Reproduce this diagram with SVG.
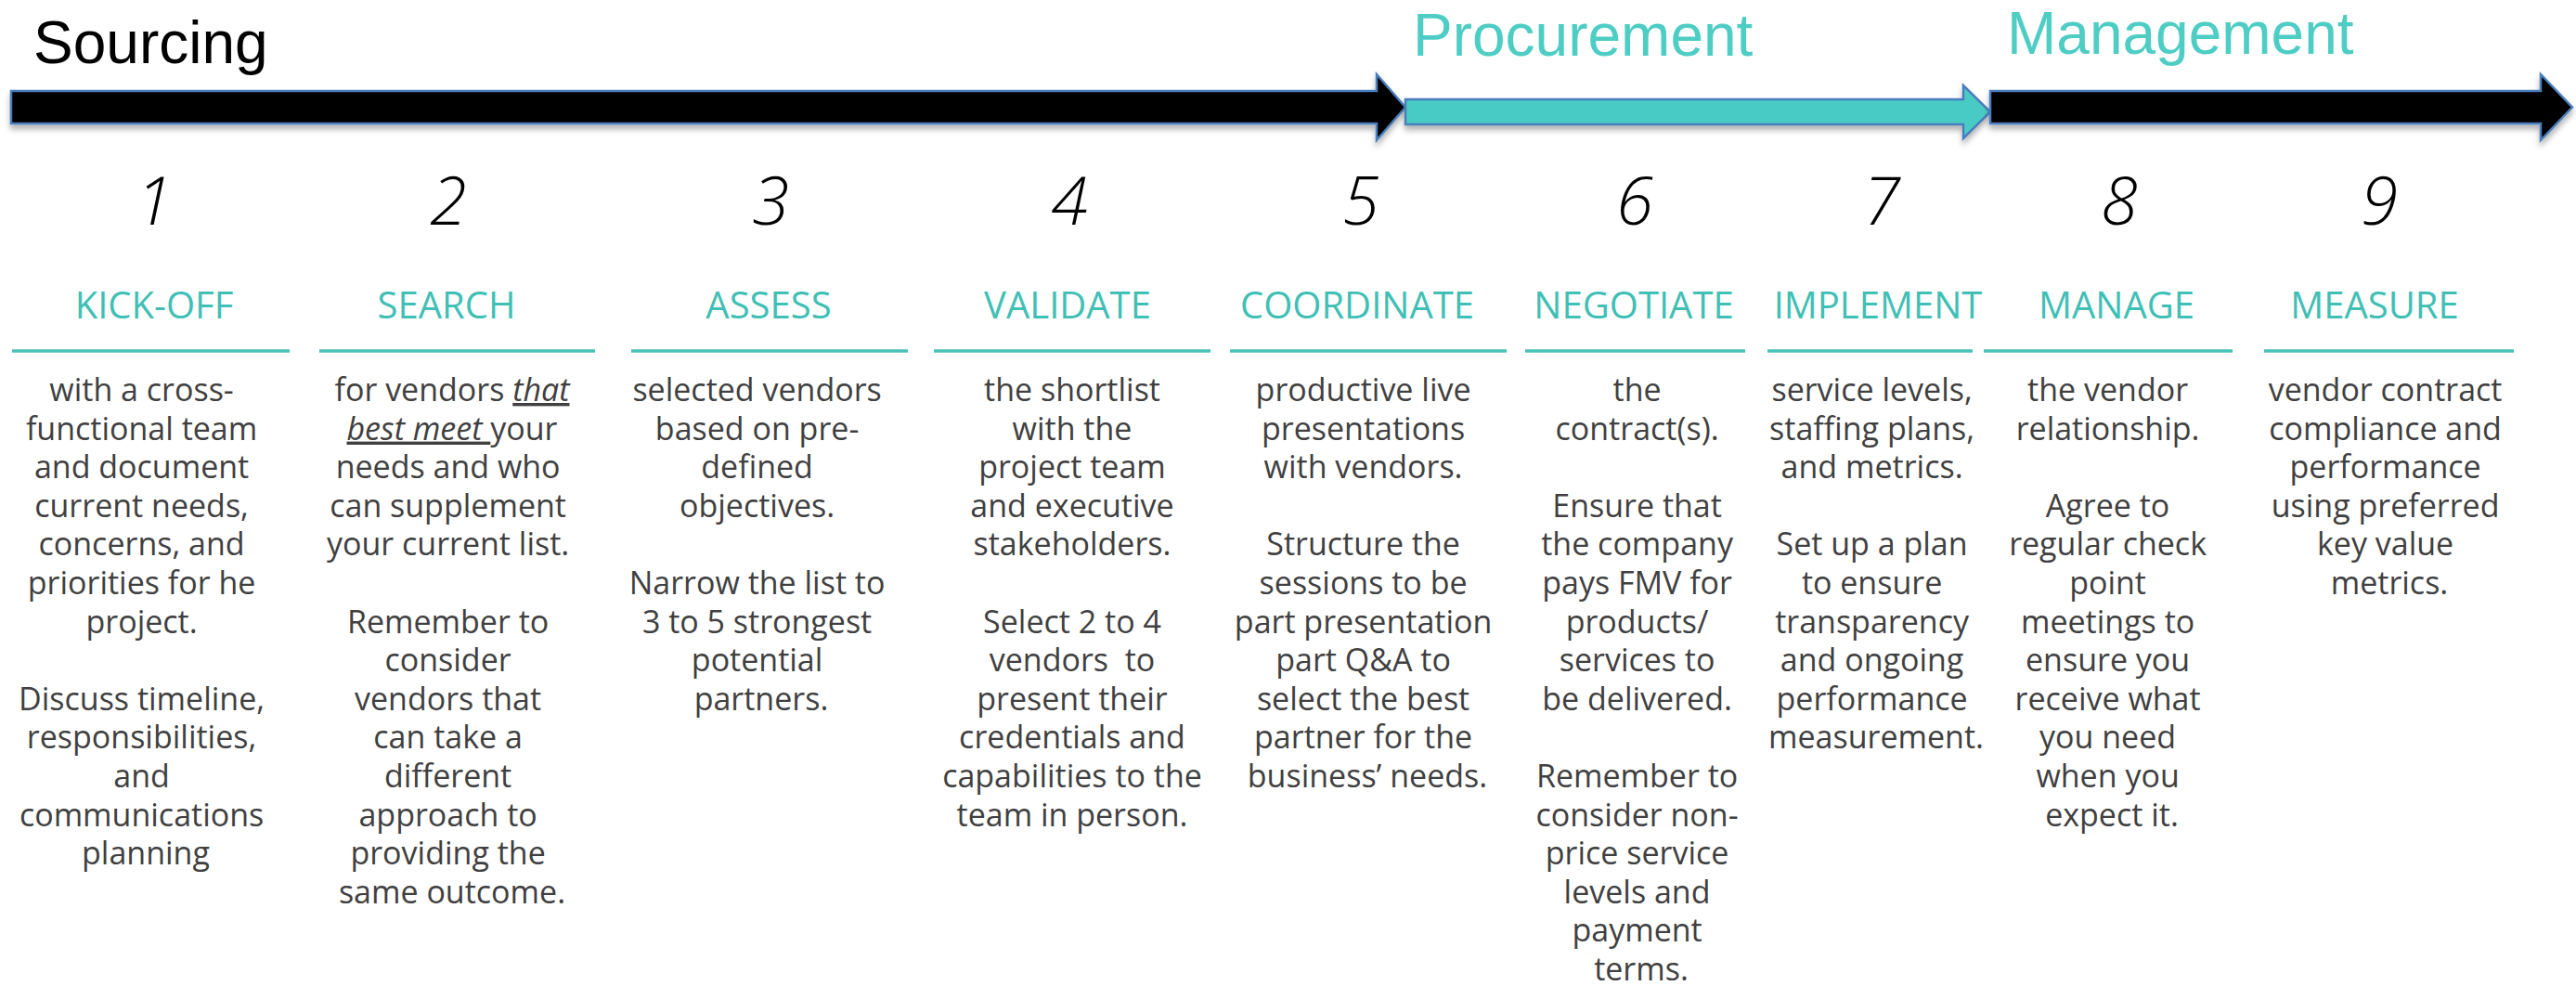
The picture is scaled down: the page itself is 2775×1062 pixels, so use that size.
<svg xmlns="http://www.w3.org/2000/svg" width="2775" height="1062" viewBox="0 0 2775 1062">
<defs>
<filter id="shadow" x="-5%" y="-50%" width="110%" height="200%">
<feDropShadow dx="0" dy="5" stdDeviation="3" flood-color="#000000" flood-opacity="0.3"/>
</filter>
<style>
.title{font-family:"Liberation Sans",Arial,sans-serif;font-size:64px;}
.num{font-family:"Open Sans","Liberation Sans",sans-serif;font-size:72px;font-style:italic;font-weight:300;fill:#000;text-anchor:middle;}
.head{font-family:"Open Sans","Liberation Sans",sans-serif;font-size:40px;fill:#40BFB5;text-anchor:middle;}
.body{font-family:"Open Sans","Liberation Sans",sans-serif;font-size:34px;fill:#404040;text-anchor:middle;}
.rule{stroke:#48C1B9;stroke-width:3.5;fill:none;}
.arrow{stroke:#4A7EBB;stroke-width:2.5;stroke-linejoin:miter;filter:url(#shadow);}
.iu{font-style:italic;text-decoration:underline;}
</style>
</defs>
<rect width="2775" height="1062" fill="#ffffff"/>

<g id="phase-titles">
<text class="title" x="36" y="68" fill="#000000">Sourcing</text>
<text class="title" x="1522" y="60" fill="#4ECDC4">Procurement</text>
<text class="title" x="2162" y="58" fill="#4ECDC4">Management</text>
</g>

<g id="connectors">
<polygon class="arrow" fill="#000000" points="12,98 1483,98 1483,80 1514,115.5 1483,151 1483,133 12,133"/>
<polygon class="arrow" fill="#48CBC5" points="1514,107 2115,107 2115,92 2144,120.5 2115,149 2115,134 1514,134"/>
<polygon class="arrow" fill="#000000" points="2144,98 2737,98 2737,80 2771,115.5 2737,151 2737,133 2144,133"/>
</g>

<g id="step-1">
<text class="num" x="166" y="242">1</text>
<text class="head" x="166" y="343">KICK-OFF</text>
<line class="rule" x1="13" y1="378" x2="312" y2="378"/>
<text class="body" y="432">
<tspan x="157">with a cross-</tspan>
<tspan x="157" dy="41.6">functional team</tspan>
<tspan x="157" dy="41.6">and document</tspan>
<tspan x="157" dy="41.6">current needs,</tspan>
<tspan x="157" dy="41.6">concerns, and</tspan>
<tspan x="157" dy="41.6">priorities for he</tspan>
<tspan x="157" dy="41.6">project.</tspan>
<tspan x="157" dy="83.2">Discuss timeline,</tspan>
<tspan x="157" dy="41.6">responsibilities,</tspan>
<tspan x="157" dy="41.6">and</tspan>
<tspan x="157" dy="41.6">communications</tspan>
<tspan x="157" dy="41.6">planning</tspan>
</text>
</g>

<g id="step-2">
<text class="num" x="483" y="242">2</text>
<text class="head" x="481" y="343">SEARCH</text>
<line class="rule" x1="344" y1="378" x2="641" y2="378"/>
<text class="body" x="487" y="432">for vendors <tspan class="iu">that</tspan></text>
<text class="body" x="487" y="473.6"><tspan class="iu">best meet </tspan>your</text>
<text class="body" y="515.2">
<tspan x="487">needs and who</tspan>
<tspan x="487" dy="41.6">can supplement</tspan>
<tspan x="487" dy="41.6">your current list.</tspan>
<tspan x="487" dy="83.2">Remember to</tspan>
<tspan x="487" dy="41.6">consider</tspan>
<tspan x="487" dy="41.6">vendors that</tspan>
<tspan x="487" dy="41.6">can take a</tspan>
<tspan x="487" dy="41.6">different</tspan>
<tspan x="487" dy="41.6">approach to</tspan>
<tspan x="487" dy="41.6">providing the</tspan>
<tspan x="487" dy="41.6">same outcome.</tspan>
</text>
</g>

<g id="step-3">
<text class="num" x="830" y="242">3</text>
<text class="head" x="828" y="343">ASSESS</text>
<line class="rule" x1="680" y1="378" x2="978" y2="378"/>
<text class="body" y="432">
<tspan x="820">selected vendors</tspan>
<tspan x="820" dy="41.6">based on pre-</tspan>
<tspan x="820" dy="41.6">defined</tspan>
<tspan x="820" dy="41.6">objectives.</tspan>
<tspan x="820" dy="83.2">Narrow the list to</tspan>
<tspan x="820" dy="41.6">3 to 5 strongest</tspan>
<tspan x="820" dy="41.6">potential</tspan>
<tspan x="820" dy="41.6">partners.</tspan>
</text>
</g>

<g id="step-4">
<text class="num" x="1152" y="242">4</text>
<text class="head" x="1150" y="343">VALIDATE</text>
<line class="rule" x1="1006" y1="378" x2="1304" y2="378"/>
<text class="body" y="432" xml:space="preserve"><tspan x="1155">the shortlist</tspan><tspan x="1155" dy="41.6">with the</tspan><tspan x="1155" dy="41.6">project team</tspan><tspan x="1155" dy="41.6">and executive</tspan><tspan x="1155" dy="41.6">stakeholders.</tspan><tspan x="1155" dy="83.2">Select 2 to 4</tspan><tspan x="1155" dy="41.6">vendors  to</tspan><tspan x="1155" dy="41.6">present their</tspan><tspan x="1155" dy="41.6">credentials and</tspan><tspan x="1155" dy="41.6">capabilities to the</tspan><tspan x="1155" dy="41.6">team in person.</tspan></text>
</g>

<g id="step-5">
<text class="num" x="1466" y="242">5</text>
<text class="head" x="1462" y="343">COORDINATE</text>
<line class="rule" x1="1325" y1="378" x2="1623" y2="378"/>
<text class="body" y="432">
<tspan x="1473">productive live</tspan>
<tspan x="1473" dy="41.6">presentations</tspan>
<tspan x="1473" dy="41.6">with vendors.</tspan>
<tspan x="1473" dy="83.2">Structure the</tspan>
<tspan x="1473" dy="41.6">sessions to be</tspan>
<tspan x="1473" dy="41.6">part presentation</tspan>
<tspan x="1473" dy="41.6">part Q&amp;A to</tspan>
<tspan x="1473" dy="41.6">select the best</tspan>
<tspan x="1473" dy="41.6">partner for the</tspan>
<tspan x="1473" dy="41.6">business’ needs.</tspan>
</text>
</g>

<g id="step-6">
<text class="num" x="1761" y="242">6</text>
<text class="head" x="1760" y="343">NEGOTIATE</text>
<line class="rule" x1="1643" y1="378" x2="1880" y2="378"/>
<text class="body" y="432">
<tspan x="1768">the</tspan>
<tspan x="1768" dy="41.6">contract(s).</tspan>
<tspan x="1768" dy="83.2">Ensure that</tspan>
<tspan x="1768" dy="41.6">the company</tspan>
<tspan x="1768" dy="41.6">pays FMV for</tspan>
<tspan x="1768" dy="41.6">products/</tspan>
<tspan x="1768" dy="41.6">services to</tspan>
<tspan x="1768" dy="41.6">be delivered.</tspan>
<tspan x="1768" dy="83.2">Remember to</tspan>
<tspan x="1768" dy="41.6">consider non-</tspan>
<tspan x="1768" dy="41.6">price service</tspan>
<tspan x="1768" dy="41.6">levels and</tspan>
<tspan x="1768" dy="41.6">payment</tspan>
<tspan x="1768" dy="41.6">terms.</tspan>
</text>
</g>

<g id="step-7">
<text class="num" x="2027" y="242">7</text>
<text class="head" x="2023" y="343">IMPLEMENT</text>
<line class="rule" x1="1904" y1="378" x2="2125" y2="378"/>
<text class="body" y="432">
<tspan x="2021">service levels,</tspan>
<tspan x="2021" dy="41.6">staffing plans,</tspan>
<tspan x="2021" dy="41.6">and metrics.</tspan>
<tspan x="2021" dy="83.2">Set up a plan</tspan>
<tspan x="2021" dy="41.6">to ensure</tspan>
<tspan x="2021" dy="41.6">transparency</tspan>
<tspan x="2021" dy="41.6">and ongoing</tspan>
<tspan x="2021" dy="41.6">performance</tspan>
<tspan x="2021" dy="41.6">measurement.</tspan>
</text>
</g>

<g id="step-8">
<text class="num" x="2283" y="242">8</text>
<text class="head" x="2280" y="343">MANAGE</text>
<line class="rule" x1="2137" y1="378" x2="2405" y2="378"/>
<text class="body" y="432">
<tspan x="2275">the vendor</tspan>
<tspan x="2275" dy="41.6">relationship.</tspan>
<tspan x="2275" dy="83.2">Agree to</tspan>
<tspan x="2275" dy="41.6">regular check</tspan>
<tspan x="2275" dy="41.6">point</tspan>
<tspan x="2275" dy="41.6">meetings to</tspan>
<tspan x="2275" dy="41.6">ensure you</tspan>
<tspan x="2275" dy="41.6">receive what</tspan>
<tspan x="2275" dy="41.6">you need</tspan>
<tspan x="2275" dy="41.6">when you</tspan>
<tspan x="2275" dy="41.6">expect it.</tspan>
</text>
</g>

<g id="step-9">
<text class="num" x="2563" y="242">9</text>
<text class="head" x="2558" y="343">MEASURE</text>
<line class="rule" x1="2439" y1="378" x2="2708" y2="378"/>
<text class="body" y="432">
<tspan x="2574">vendor contract</tspan>
<tspan x="2574" dy="41.6">compliance and</tspan>
<tspan x="2574" dy="41.6">performance</tspan>
<tspan x="2574" dy="41.6">using preferred</tspan>
<tspan x="2574" dy="41.6">key value</tspan>
<tspan x="2574" dy="41.6">metrics.</tspan>
</text>
</g>
</svg>
